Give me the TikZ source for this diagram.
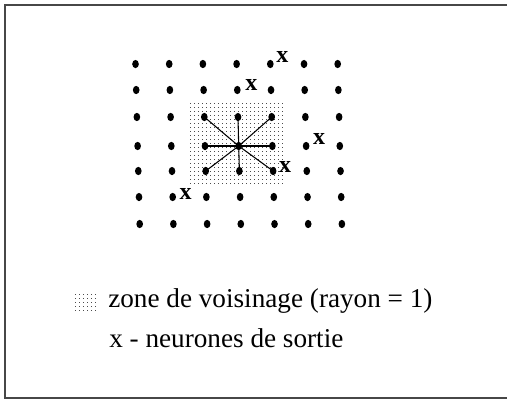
\documentclass[tikz,border=0pt]{standalone}
\usepackage{fontspec}
\setmainfont{Liberation Serif}
\usetikzlibrary{calc,shapes.geometric}
\begin{document}
\begin{tikzpicture}[x=0.75pt,y=-0.75pt,
  neuron/.style={ellipse,fill=black,inner sep=0pt,minimum width=5pt,minimum height=6.2pt},
  pd/.style={fill=black!70},
  link/.style={line width=0.8pt},
  xmark/.style={font=\fontsize{18}{18}\selectfont\bfseries,inner sep=0pt},
  legend/.style={font=\fontsize{20.4}{24}\selectfont,inner sep=0pt,anchor=base west},
  frame/.style={line width=1.5pt,draw=black!72}]
\useasboundingbox (0,0) rectangle (507,401);
\fill[white] (0,0) rectangle (507,401);
\draw[frame] (508,5) -- (5,5) -- (5,397.5) -- (508,397.5);
% neighbourhood zone (dotted)
\foreach \i in {0,...,23}
  \foreach \j in {0,...,20}
    \fill[pd] (190+4*\i,103+4*\j) rectangle ++(1.1,1.1);
% neurons
\foreach \y [count=\j from 0] in {64,90,117,146,171,197,224}
  \foreach \i in {0,...,6}
    \node[neuron] (n-\i-\j) at ({135.5+33.7*\i+0.7*\j},\y) {};
% links from the winner
\foreach \a/\b in {2/2,3/2,4/2,2/3,4/3,2/4,3/4,4/4}
  \draw[link] (n-3-3.center) -- (n-\a-\b.center);
% output neurons
\node[xmark] (x1) at ($(n-4-0)+(12,-7)$) {x};
\node[xmark] (x2) at ($(n-3-1)+(14,-5)$) {x};
\node[xmark] (x3) at ($(n-5-3)+(13,-7)$) {x};
\node[xmark] (x4) at ($(n-4-4)+(12,-4)$) {x};
\node[xmark] (x5) at ($(n-1-5)+(13,-3)$) {x};
% legend
\foreach \i in {0,...,5}
  \foreach \j in {0,...,4}
    \fill[pd] (75+4*\i,294+4*\j) rectangle ++(1.1,1.1);
\node[legend] (l1) at (108,307) {zone de voisinage (rayon = 1)};
\node[legend] (l2) at (109,347) {x - neurones de sortie};
\end{tikzpicture}
\end{document}
